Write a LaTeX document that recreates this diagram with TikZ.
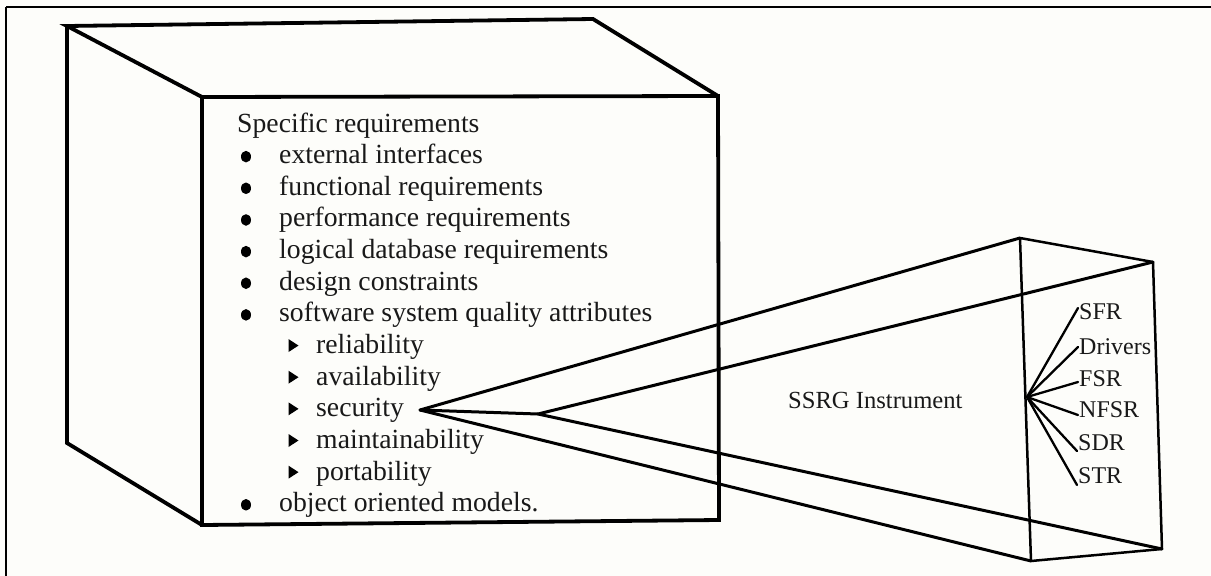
\documentclass[tikz,border=0pt]{standalone}
\usepackage{fontspec}
\setmainfont{Liberation Serif}
\definecolor{paper}{RGB}{253,253,250}
\definecolor{ink}{RGB}{25,25,25}
\tikzset{
  frameline/.style={line width=2.6pt, draw=black},
  cubeline/.style={line width=3.8pt, draw=black, line join=miter, line cap=round},
  coneline/.style={line width=3pt, draw=black, line join=round, line cap=round},
  boxline/.style={line width=2.5pt, draw=black, line join=round},
  fanline/.style={line width=2.3pt, draw=black, line cap=round},
  listtext/.style={anchor=base west, inner sep=0pt, text=ink,
    font=\fontsize{27.7}{31.7}\selectfont},
  tagtext/.style={anchor=west, inner sep=1pt, text=ink,
    font=\fontsize{24}{28}\selectfont},
  bulletdot/.style={fill=black},
  arrowmark/.style={fill=black}
}
\begin{document}
\begin{tikzpicture}[x=1pt,y=-1pt]
\useasboundingbox (0,0) rectangle (1211,576);
\fill[paper] (0,0) rectangle (1211,576);

% frame (top and left edges)
\draw[frameline] (6,7) -- (1211,7);
\draw[frameline] (6,7) -- (6,576);

% cube corners
\coordinate (B1) at (67,26);
\coordinate (B2) at (593,19);
\coordinate (B3) at (67,443);
\coordinate (F1) at (202,97);
\coordinate (F2) at (718,96);
\coordinate (F3) at (202,525);
\coordinate (F4) at (719,520);

\draw[cubeline] (F1) -- (B1) -- (B2) -- (F2);
\draw[cubeline] (B1) -- (B3) -- (F3);
\draw[cubeline] (F1) -- (F2) -- (F4) -- (F3) -- cycle;

% requirement list
\node[listtext] (spec) at (237,132) {Specific requirements};
\foreach \name/\row/\txt in {
    ext/1/external interfaces,
    fun/2/functional requirements,
    perf/3/performance requirements,
    logdb/4/logical database requirements,
    des/5/design constraints,
    soft/6/software system quality attributes,
    obj/12/object oriented models.}{
  \fill[bulletdot] (246,{132+31.65*\row-7}) ellipse [x radius=5, y radius=5.8];
  \node[listtext] (\name) at (279,{132+31.65*\row}) {\txt};
}
\foreach \name/\row/\txt in {
    rel/7/reliability,
    avail/8/availability,
    sec/9/security,
    maint/10/maintainability,
    port/11/portability}{
  \fill[arrowmark] (288.5,{132+31.65*\row-14.5}) -- (298.5,{132+31.65*\row-8})
     -- (288.5,{132+31.65*\row-1.5}) -- cycle;
  \node[listtext] (\name) at (316,{132+31.65*\row}) {\txt};
}

% instrument prism
\coordinate (A) at (420,410);
\coordinate (P) at (538,414);
\coordinate (Q1) at (1020,238);
\coordinate (Q2) at (1153,262);
\coordinate (Q3) at (1031,561);
\coordinate (Q4) at (1162,549);

\draw[coneline] (Q1) -- (A) -- (Q3);
\draw[coneline] (A) -- (P);
\draw[coneline] (Q2) -- (P) -- (Q4);
\draw[boxline] (Q1) -- (Q2) -- (Q4) -- (Q3) -- cycle;

\node[anchor=base west, inner sep=0pt, text=ink,
      font=\fontsize{24.6}{28}\selectfont] (ssrg) at (788,408) {SSRG Instrument};

% fan of instrument parts
\coordinate (hub) at (1027,397);
\node[tagtext] (sfr) at (1078,312) {SFR};
\node[tagtext] (drv) at (1078,347) {Drivers};
\node[tagtext] (fsr) at (1078,379) {FSR};
\node[tagtext] (nfsr) at (1078,410) {NFSR};
\node[tagtext] (sdr) at (1077,443) {SDR};
\node[tagtext] (str) at (1077,476) {STR};

\draw[fanline] (hub) -- ([yshift=4pt]sfr.west);
\draw[fanline] (hub) -- (drv.west);
\draw[fanline] (hub) -- ([yshift=-3pt]fsr.west);
\draw[fanline] (hub) -- ([yshift=-5pt]nfsr.west);
\draw[fanline] (hub) -- ([yshift=-8pt]sdr.west);
\draw[fanline] (hub) -- ([yshift=-9pt]str.west);
\end{tikzpicture}
\end{document}
